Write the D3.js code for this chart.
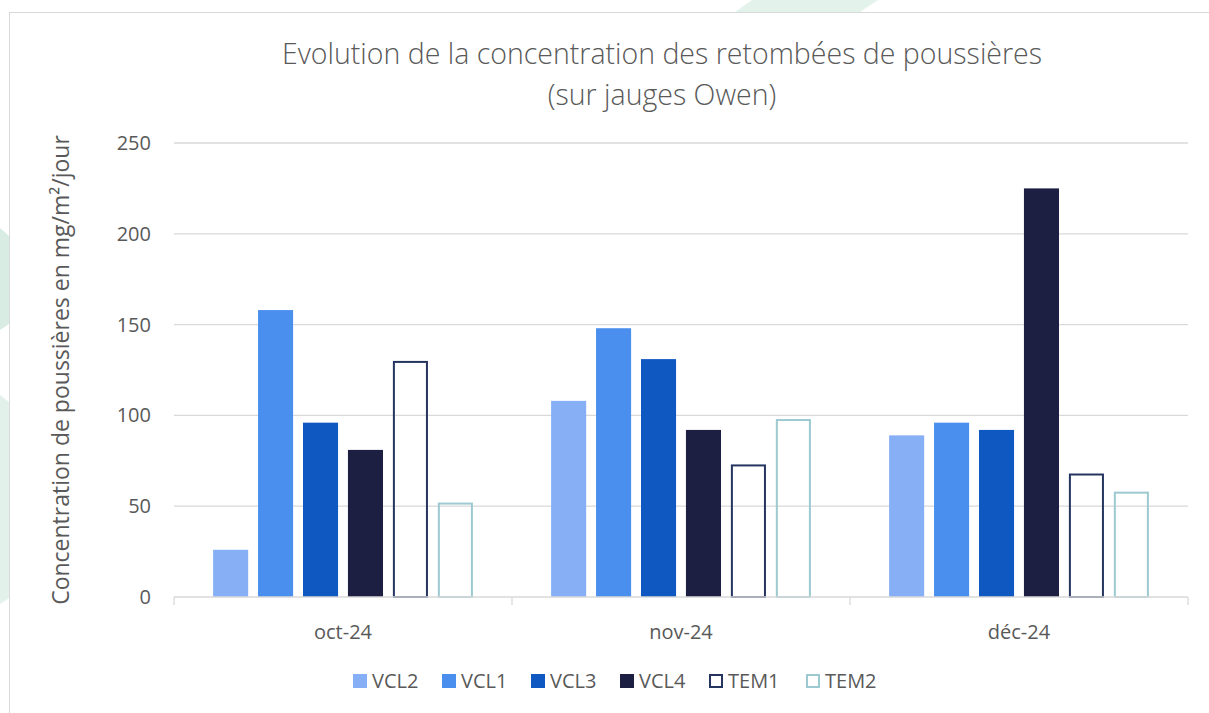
<!DOCTYPE html>
<html>
<head>
<meta charset="utf-8">
<script src="https://cdn.jsdelivr.net/npm/d3@7"></script>
<style>
  body { margin: 0; background: #fff; }
  svg { display: block; font-family: "Open Sans", sans-serif; }
</style>
</head>
<body>
<div id="chart"></div>
<script>
// données
const months = ["oct-24", "nov-24", "déc-24"];
const stations = ["VCL2", "VCL1", "VCL3", "VCL4", "TEM1", "TEM2"];
const vcl2 = [26, 108, 89];
const vcl1 = [158, 148, 96];
const vcl3 = [96, 131, 92];
const vcl4 = [81, 92, 225];
const tem1 = [130, 73, 68];
const tem2 = [52, 98, 58];
const yTicks = [0, 50, 100, 150, 200, 250];

const seriesValues = [vcl2, vcl1, vcl3, vcl4, tem1, tem2];
const fills = ["#86aff5", "#4a8eee", "#0f58c2", "#1c1f41", "none", "none"];
const strokes = ["none", "none", "none", "none", "#253560", "#9ccad0"];

const width = 1209, height = 713;
const margin = {left: 174, right: 21, top: 143, bottom: 116};

const svg = d3.select("#chart").append("svg")
  .attr("width", width).attr("height", height);

// fond décoratif (filigrane vert pâle)
svg.append("path").attr("d", "M752,0 L878,0 L860,12 L735,12 Z").attr("fill", "#e4f2ec");
svg.append("path").attr("d", "M0,228 L9,236 L9,324 L0,330 Z").attr("fill", "#d9ece4");
svg.append("path").attr("d", "M0,395 L9,402 L9,598 L0,604 Z").attr("fill", "#e3f1eb");

// cadre
svg.append("rect").attr("x", 9.5).attr("y", 12.5)
  .attr("width", width).attr("height", height)
  .attr("fill", "none").attr("stroke", "#d9d9d9");

const x0 = d3.scaleBand().domain(months)
  .range([margin.left, width - margin.right]).paddingInner(0).paddingOuter(0);
const x1 = d3.scaleBand().domain(stations)
  .range([0, x0.bandwidth()]).paddingInner(0.22).paddingOuter(0.87);
const y = d3.scaleLinear().domain([0, 250])
  .range([height - margin.bottom, margin.top]);

// grille
svg.append("g").selectAll("line").data(yTicks.slice(1)).join("line")
  .attr("x1", margin.left).attr("x2", width - margin.right)
  .attr("y1", d => y(d)).attr("y2", d => y(d))
  .attr("stroke", "#d9d9d9").attr("stroke-width", 1.3);

// barres
const groups = svg.append("g").selectAll("g").data(stations).join("g");
groups.selectAll("rect")
  .data((s, i) => months.map((m, j) => ({m, s, i, v: seriesValues[i][j]})))
  .join("rect")
  .attr("x", d => x0(d.m) + x1(d.s) + (fills[d.i] === "none" ? 1 : 0))
  .attr("width", d => x1.bandwidth() - (fills[d.i] === "none" ? 2 : 0))
  .attr("y", d => y(d.v) + (fills[d.i] === "none" ? 1 : 0))
  .attr("height", d => y(0) - y(d.v) - (fills[d.i] === "none" ? 1 : 0))
  .attr("fill", d => fills[d.i])
  .attr("stroke", d => strokes[d.i])
  .attr("stroke-width", 2);

// axe x
const xAxis = svg.append("g").attr("transform", `translate(0,${y(0)})`);
xAxis.append("line").attr("x1", margin.left).attr("x2", width - margin.right)
  .attr("stroke", "#d9d9d9").attr("stroke-width", 1.3);
const tickX = [margin.left].concat(months.map(m => x0(m) + x0.bandwidth()));
xAxis.selectAll(".tk").data(tickX).join("line")
  .attr("x1", d => d).attr("x2", d => d).attr("y1", 0).attr("y2", 8)
  .attr("stroke", "#d9d9d9").attr("stroke-width", 1.3);
xAxis.selectAll("text").data(months).join("text")
  .attr("x", d => x0(d) + x0.bandwidth() / 2).attr("y", 42)
  .attr("text-anchor", "middle").attr("fill", "#595959")
  .attr("font-size", 20).text(d => d);

// axe y (étiquettes)
svg.append("g").selectAll("text").data(yTicks).join("text")
  .attr("x", 151).attr("y", d => y(d)).attr("dy", "0.35em")
  .attr("text-anchor", "end").attr("fill", "#595959")
  .attr("font-size", 20).text(d => d);

// titre
const title = svg.append("text").attr("text-anchor", "middle")
  .attr("fill", "#595959").attr("font-size", 28.5).attr("font-weight", 300);
title.append("tspan").attr("x", 662).attr("y", 64)
  .text("Evolution de la concentration des retombées de poussières");
title.append("tspan").attr("x", 662).attr("y", 105).text("(sur jauges Owen)");

// titre axe y
svg.append("text")
  .attr("transform", "translate(69,370) rotate(-90)")
  .attr("text-anchor", "middle").attr("fill", "#595959")
  .attr("font-size", 23)
  .text("Concentration de poussières en mg/m²/jour");

// légende
const legendX = [353, 442, 531, 620, 709, 806];
const leg = svg.append("g").selectAll("g").data(stations).join("g")
  .attr("transform", (d, i) => `translate(${legendX[i]},674)`);
leg.append("rect")
  .attr("x", (d, i) => fills[i] === "none" ? 1 : 0)
  .attr("y", (d, i) => fills[i] === "none" ? 1 : 0)
  .attr("width", (d, i) => fills[i] === "none" ? 12 : 14)
  .attr("height", (d, i) => fills[i] === "none" ? 12 : 14)
  .attr("fill", (d, i) => fills[i])
  .attr("stroke", (d, i) => strokes[i]).attr("stroke-width", 2);
leg.append("text").attr("x", 19).attr("y", 7).attr("dy", "0.35em")
  .attr("fill", "#595959").attr("font-size", 20).text(d => d);
</script>
</body>
</html>
